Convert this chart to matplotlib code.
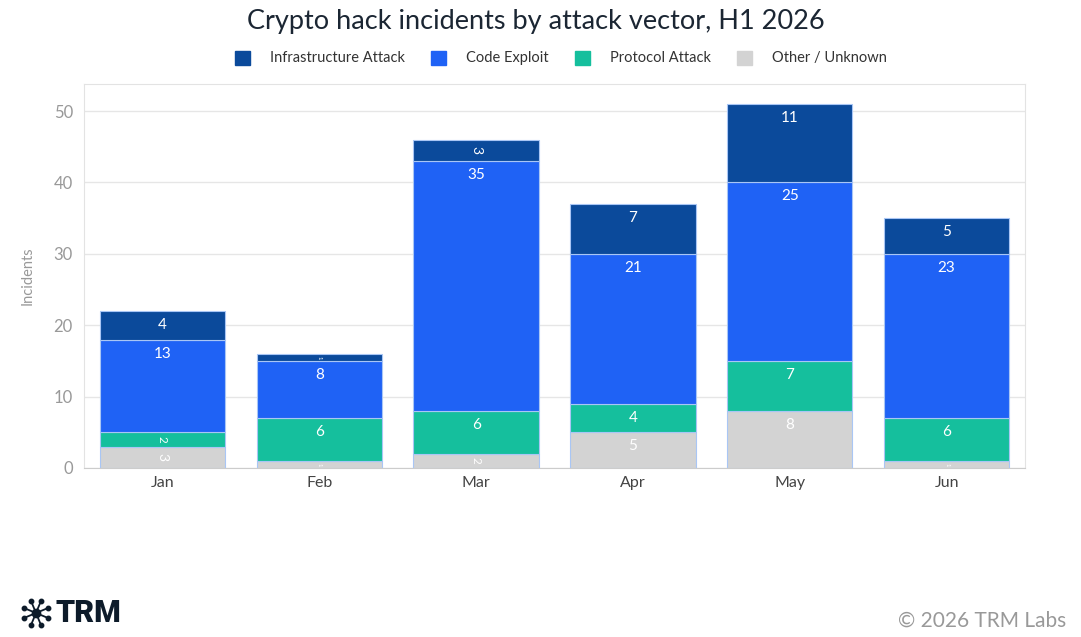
import matplotlib
matplotlib.use("Agg")
import matplotlib.pyplot as plt
from matplotlib.lines import Line2D
from matplotlib.patches import Patch
import numpy as np

plt.rcParams['font.family'] = ['Lato', 'DejaVu Sans']

months = ["Jan", "Feb", "Mar", "Apr", "May", "Jun"]
other = [3, 1, 2, 5, 8, 1]
protocol = [2, 6, 6, 4, 7, 6]
code = [13, 8, 35, 21, 25, 23]
infra = [4, 1, 3, 7, 11, 5]

series = [
    ("Other / Unknown", other, "#D3D3D3"),
    ("Protocol Attack", protocol, "#15BF9D"),
    ("Code Exploit", code, "#1F62F5"),
    ("Infrastructure Attack", infra, "#0B4A9B"),
]

W, H = 1081, 637
fig = plt.figure(figsize=(W / 100, H / 100), dpi=100)
ax = fig.add_axes([84 / W, 1 - 468 / H, (1025 - 84) / W, (468 - 84) / H])

x = np.arange(len(months))
bottom = np.zeros(len(months))
handles = {}
for name, vals, color in series:
    vals = np.array(vals, dtype=float)
    ax.bar(x, vals, bottom=bottom, width=0.8, color=color,
           edgecolor="#A9C6F5", linewidth=0.8, zorder=3)
    handles[name] = Patch(facecolor=color, edgecolor=color)
    for xi, v, b in zip(x, vals, bottom):
        top = b + v
        if v <= 3:
            fs = min(10, 4.2 * v)
            ax.text(xi, b + v / 2, f"{int(v)}", rotation=-90, ha="center",
                    va="center", color="white", fontsize=fs, zorder=4)
        else:
            ax.annotate(f"{int(v)}", (xi, top), xytext=(0, -14),
                        textcoords="offset pixels",
                        ha="center", va="center", color="white",
                        fontsize=11, zorder=4)
    bottom = bottom + vals

ax.set_xlim(-0.5, len(months) - 0.5)
ax.set_ylim(0, 53.8)
ax.set_yticks([0, 10, 20, 30, 40, 50])
ax.set_xticks(x)
ax.set_xticklabels(months)
ax.tick_params(axis="both", length=0)
ax.tick_params(axis="x", colors="#444444", labelsize=11.5, pad=6)
ax.tick_params(axis="y", colors="#999999", labelsize=12, pad=8)
ax.grid(axis="y", color="#E6E6E6", linewidth=1, zorder=0)
ax.set_axisbelow(True)
for s in ["top", "right", "left"]:
    ax.spines[s].set_color("#E3E3E3")
ax.spines["bottom"].set_color("#CCCCCC")
ax.set_ylabel("Incidents", color="#999999", fontsize=10.5, labelpad=14)

fig.text(0.496, 1 - 22 / H, "Crypto hack incidents by attack vector, H1 2026",
         ha="center", va="center", fontsize=19.5, color="#1B2633")

order = ["Infrastructure Attack", "Code Exploit", "Protocol Attack", "Other / Unknown"]
fig.legend([handles[n] for n in order], order, ncol=4, loc="center",
           bbox_to_anchor=(0.519, 1 - 58 / H), frameon=False, fontsize=10.5,
           handlelength=1.0, handleheight=1.1, handletextpad=1.4,
           columnspacing=1.8, labelcolor="#333333")

# logo
cx, cy, r = 36 / W, 1 - 613 / H, 13
for k in range(8):
    a = np.pi / 8 + k * np.pi / 4
    dx, dy = r * np.cos(a) / W, r * np.sin(a) / H
    fig.add_artist(Line2D([cx, cx + dx], [cy, cy + dy], color="#0D1B2A", lw=1.3))
    fig.add_artist(Line2D([cx + dx], [cy + dy], marker="o", ms=3.2, color="#0D1B2A"))
fig.add_artist(Line2D([cx], [cy], marker="o", ms=6, color="#0D1B2A"))
fig.text(55 / W, 1 - 613 / H, "TRM", ha="left", va="center", fontsize=22,
         fontweight="black", color="#0D1B2A", family=["Roboto", "DejaVu Sans"])
fig.text(1066 / W, 1 - 621 / H, "© 2026 TRM Labs", ha="right", va="center",
         fontsize=15, color="#999999")

fig.savefig("out.png", dpi=100)
